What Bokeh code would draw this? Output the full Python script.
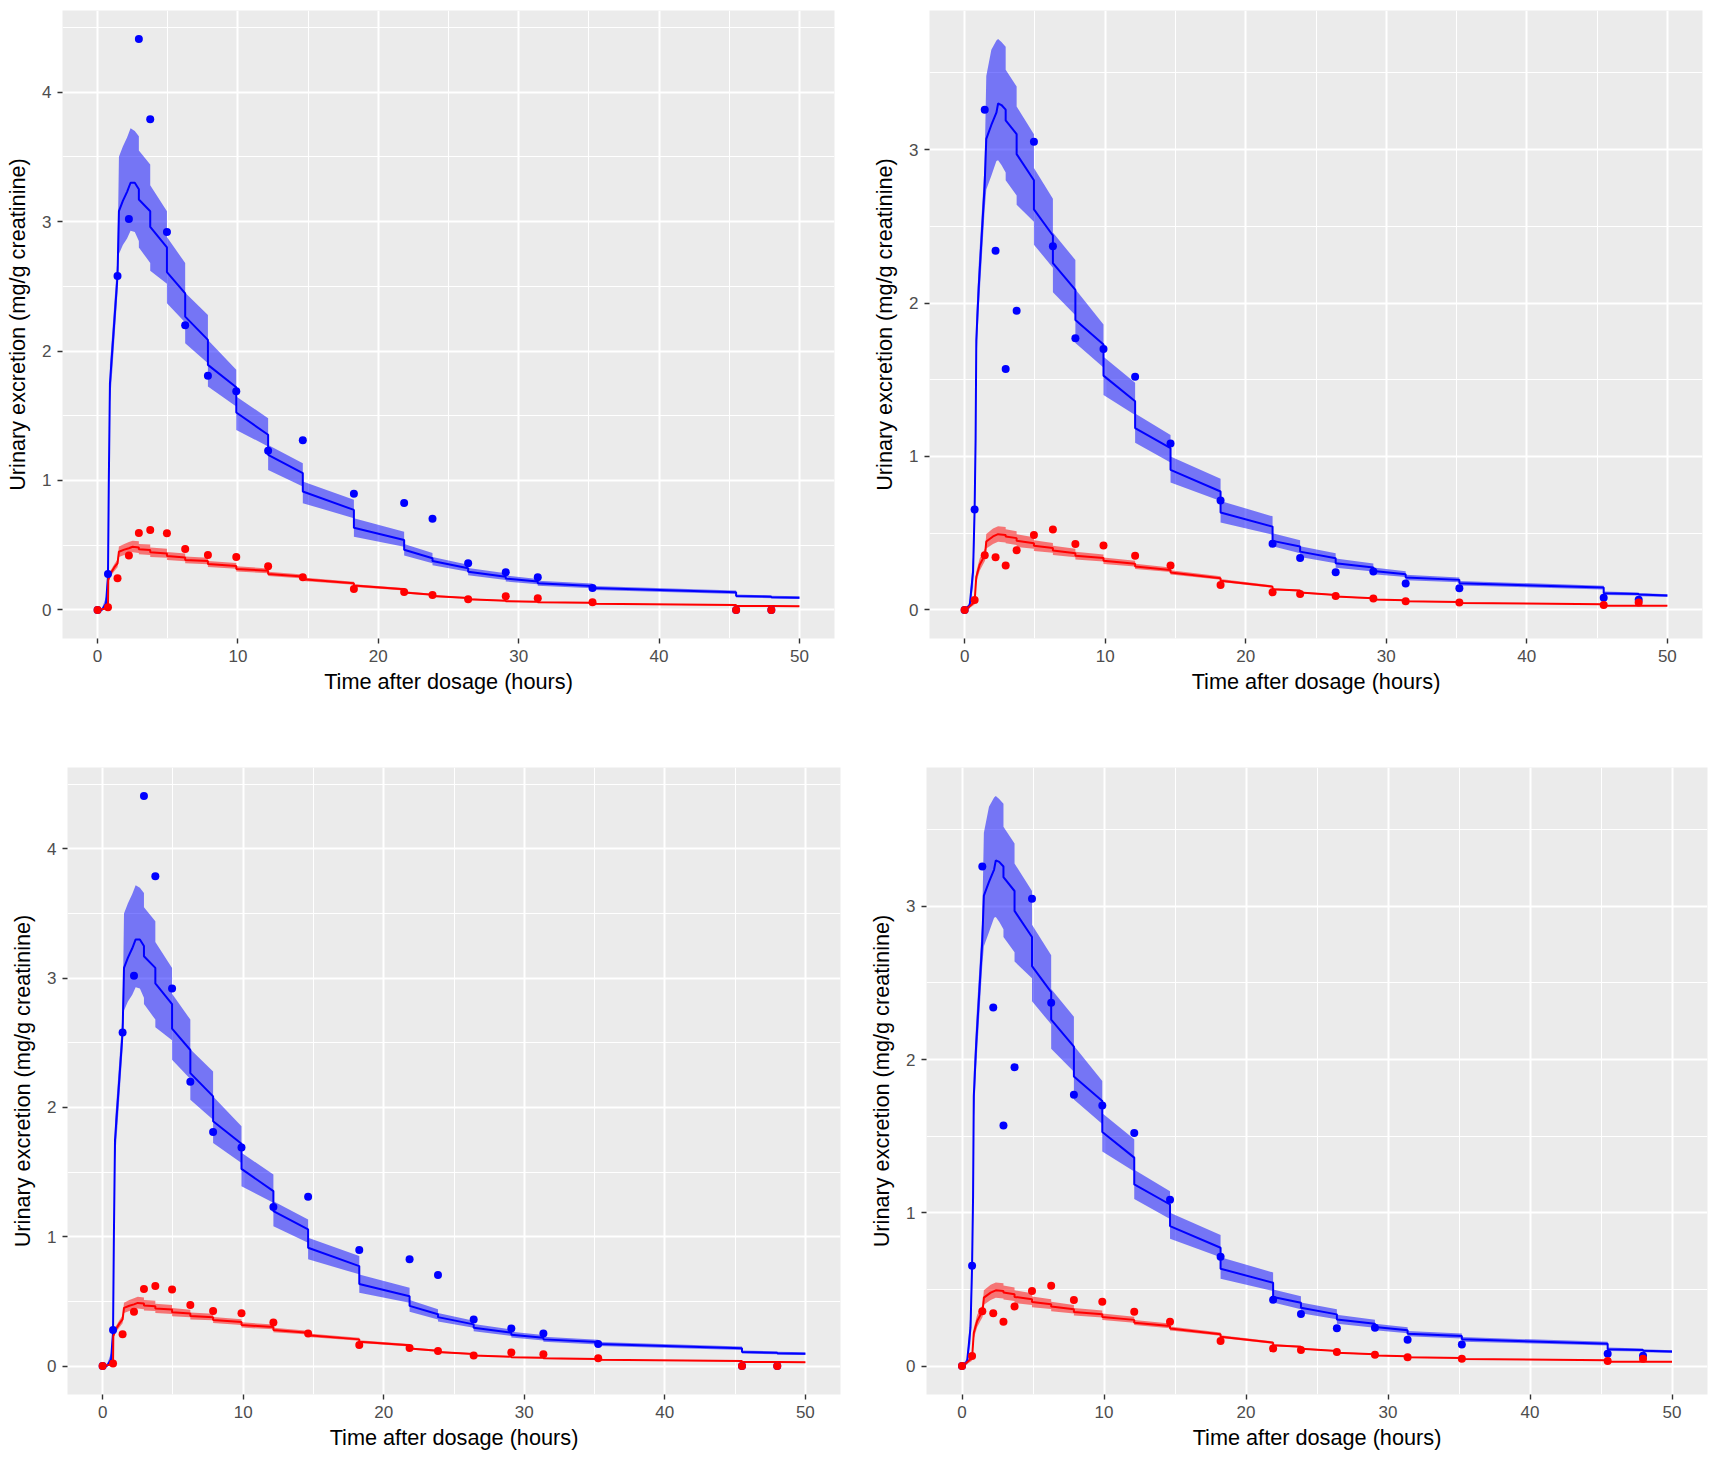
from bokeh.plotting import figure
from bokeh.layouts import row, column
from bokeh.models import Range1d, FixedTicker
from bokeh.embed import file_html
from bokeh.resources import INLINE

# ---------------- data: left panels (top-left and bottom-left) ----------------
obs_time_L = [0, 0.74, 1.42, 2.23, 2.94, 3.75, 4.94, 6.24, 7.86, 9.88, 12.15, 14.62,
              18.26, 21.84, 23.86, 26.4, 29.08, 31.36, 35.26, 45.49, 48.0]
blue_obs_L = [0.0, 0.278, 2.58, 3.02, 4.41, 3.79, 2.92, 2.20, 1.81, 1.69, 1.23, 1.31,
              0.898, 0.826, 0.705, 0.36, 0.291, 0.252, 0.17, 0.0, 0.0]
red_obs_L = [0.0, 0.02, 0.245, 0.42, 0.595, 0.618, 0.592, 0.471, 0.425, 0.409, 0.337, 0.252,
             0.162, 0.139, 0.116, 0.082, 0.105, 0.09, 0.059, 0.0, 0.0]

t_blue_L = [0, 0.3, 0.6, 0.74, 0.8, 0.88, 1.05, 1.42, 1.52, 1.8, 2.1, 2.35, 2.65,
            2.94, 2.94, 3.75, 3.75, 4.94, 4.94, 6.24, 6.24, 7.86, 7.86, 9.88, 9.88,
            12.15, 12.15, 14.62, 14.62, 18.26, 18.26, 21.84, 21.84, 23.86, 23.86,
            26.4, 26.4, 29.08, 29.08, 31.36, 31.36, 35.26, 35.26, 45.49, 45.49, 48.0, 48.0, 50.0]
blue_mean_L = [0, 0.0, 0.05, 0.26, 1.0, 1.75, 2.01, 2.58, 3.08, 3.16, 3.23, 3.30, 3.30,
               3.25, 3.17, 3.08, 2.96, 2.80, 2.61, 2.445, 2.266, 2.086, 1.893, 1.72, 1.525,
               1.353, 1.198, 1.057, 0.915, 0.773, 0.635, 0.54, 0.465, 0.40, 0.378,
               0.322, 0.296, 0.257, 0.242, 0.219, 0.206, 0.185, 0.17, 0.137, 0.108, 0.102, 0.099, 0.095]
blue_low_L = [0, 0, 0.03, 0.2, 0.85, 1.6, 1.85, 2.45, 2.75, 2.82, 2.87, 2.93, 2.92,
              2.85, 2.80, 2.68, 2.62, 2.52, 2.37, 2.22, 2.06, 1.906, 1.726, 1.571, 1.391,
              1.263, 1.082, 0.954, 0.825, 0.709, 0.566, 0.489, 0.42, 0.36, 0.345,
              0.295, 0.268, 0.232, 0.22, 0.198, 0.187, 0.167, 0.154, 0.123, 0.096, 0.091, 0.088, 0.085]
blue_high_L = [0, 0.01, 0.1, 0.35, 1.15, 1.9, 2.15, 2.72, 3.50, 3.58, 3.65, 3.72, 3.70,
               3.66, 3.55, 3.44, 3.28, 3.08, 2.88, 2.68, 2.45, 2.279, 2.086, 1.855, 1.649,
               1.481, 1.275, 1.134, 0.992, 0.851, 0.708, 0.605, 0.51, 0.44, 0.41,
               0.35, 0.325, 0.283, 0.265, 0.24, 0.226, 0.204, 0.186, 0.151, 0.12, 0.113, 0.11, 0.106]

t_red_L = [0, 0.3, 0.6, 0.74, 0.76, 0.93, 1.2, 1.42, 1.52, 1.9, 2.23, 2.5,
           2.94, 2.94, 3.75, 3.75, 4.94, 4.94, 6.24, 6.24, 7.86, 7.86, 9.88, 9.88,
           12.15, 12.15, 14.62, 14.62, 18.26, 18.26, 21.84, 21.84, 23.86, 23.86,
           26.4, 26.4, 29.08, 29.08, 31.36, 31.36, 35.26, 35.26, 45.49, 45.49, 48.0, 48.0, 50.0]
red_mean_L = [0, 0.005, 0.012, 0.02, 0.232, 0.283, 0.33, 0.36, 0.45, 0.466, 0.477, 0.488,
              0.483, 0.468, 0.463, 0.445, 0.437, 0.416, 0.406, 0.386, 0.378, 0.355, 0.34, 0.317,
              0.302, 0.278, 0.258, 0.237, 0.206, 0.188, 0.16, 0.135, 0.118, 0.108,
              0.093, 0.082, 0.072, 0.067, 0.063, 0.06, 0.055, 0.048, 0.038, 0.031, 0.030, 0.030, 0.029]
red_low_L = [0, 0, 0.005, 0.012, 0.21, 0.26, 0.30, 0.33, 0.41, 0.425, 0.437, 0.445,
             0.44, 0.43, 0.425, 0.41, 0.403, 0.385, 0.377, 0.36, 0.353, 0.332, 0.318, 0.297,
             0.284, 0.262, 0.243, 0.224, 0.195, 0.178, 0.151, 0.127, 0.111, 0.101,
             0.087, 0.077, 0.067, 0.063, 0.058, 0.055, 0.049, 0.044, 0.034, 0.028, 0.027, 0.027, 0.026]
red_high_L = [0, 0.01, 0.02, 0.03, 0.25, 0.305, 0.355, 0.39, 0.49, 0.51, 0.525, 0.535,
              0.53, 0.51, 0.505, 0.482, 0.472, 0.448, 0.436, 0.413, 0.404, 0.379, 0.362, 0.338,
              0.321, 0.295, 0.273, 0.251, 0.218, 0.199, 0.17, 0.144, 0.126, 0.115,
              0.099, 0.088, 0.077, 0.072, 0.067, 0.064, 0.057, 0.051, 0.041, 0.034, 0.033, 0.033, 0.032]

# ---------------- data: right panels (top-right and bottom-right) ----------------
obs_time_R = [0, 0.71, 1.43, 2.2, 2.92, 3.7, 4.93, 6.28, 7.88, 9.88, 12.13, 14.65,
              18.21, 21.91, 23.87, 26.4, 29.08, 31.38, 35.2, 45.47, 47.96]
blue_obs_R = [0.0, 0.654, 3.26, 2.34, 1.57, 1.95, 3.05, 2.37, 1.77, 1.70, 1.52, 1.085,
              0.713, 0.432, 0.339, 0.246, 0.25, 0.172, 0.141, 0.080, 0.067]
red_obs_R = [0.0, 0.065, 0.357, 0.344, 0.289, 0.389, 0.489, 0.524, 0.43, 0.42, 0.354, 0.289,
             0.163, 0.115, 0.104, 0.091, 0.074, 0.057, 0.048, 0.033, 0.048]

t_blue_R = [0, 0.36, 0.6, 0.71, 0.78, 0.83, 1.0, 1.42, 1.54, 1.9, 2.26, 2.38, 2.62,
            2.92, 2.92, 3.70, 3.70, 4.93, 4.93, 6.28, 6.28, 7.88, 7.88, 9.88, 9.88,
            12.13, 12.13, 14.65, 14.65, 18.21, 18.21, 21.91, 21.91, 23.87, 23.87,
            26.4, 26.4, 29.08, 29.08, 31.38, 31.38, 35.2, 35.2, 45.47, 45.47, 47.96, 47.96, 50.0]
blue_mean_R = [0, 0.03, 0.25, 0.654, 1.11, 1.76, 2.1, 2.76, 3.07, 3.16, 3.24, 3.30, 3.29,
               3.26, 3.19, 3.10, 2.97, 2.80, 2.61, 2.44, 2.26, 2.085, 1.89, 1.73, 1.527,
               1.36, 1.185, 1.054, 0.913, 0.772, 0.635, 0.543, 0.45, 0.413, 0.38,
               0.337, 0.304, 0.276, 0.254, 0.233, 0.211, 0.196, 0.174, 0.146, 0.109, 0.104, 0.10, 0.094]
blue_low_R = [0, 0.01, 0.15, 0.5, 0.95, 1.6, 1.95, 2.6, 2.74, 2.83, 2.925, 2.93, 2.90,
              2.85, 2.80, 2.70, 2.64, 2.53, 2.38, 2.23, 2.07, 1.92, 1.74, 1.58, 1.40,
              1.27, 1.09, 0.96, 0.83, 0.71, 0.57, 0.49, 0.415, 0.37, 0.345,
              0.305, 0.275, 0.25, 0.233, 0.214, 0.194, 0.18, 0.159, 0.134, 0.098, 0.094, 0.09, 0.085]
blue_high_R = [0, 0.05, 0.35, 0.8, 1.3, 1.92, 2.25, 2.9, 3.48, 3.65, 3.71, 3.72, 3.70,
               3.67, 3.52, 3.41, 3.28, 3.10, 2.88, 2.68, 2.46, 2.28, 2.09, 1.86, 1.65,
               1.48, 1.28, 1.14, 1.0, 0.855, 0.71, 0.61, 0.50, 0.455, 0.415,
               0.37, 0.335, 0.302, 0.276, 0.253, 0.229, 0.212, 0.189, 0.158, 0.12, 0.114, 0.11, 0.103]

t_red_R = [0, 0.3, 0.71, 0.83, 1.07, 1.45, 1.54, 2.02, 2.38,
           2.92, 2.92, 3.70, 3.70, 4.93, 4.93, 6.28, 6.28, 7.88, 7.88, 9.88, 9.88,
           12.13, 12.13, 14.65, 14.65, 18.21, 18.21, 21.91, 21.91, 23.87, 23.87,
           26.4, 26.4, 29.08, 29.08, 31.38, 31.38, 35.2, 35.2, 45.47, 45.47, 47.96, 47.96, 50.0]
red_mean_R = [0, 0.02, 0.054, 0.217, 0.294, 0.359, 0.446, 0.479, 0.494,
              0.489, 0.479, 0.468, 0.451, 0.435, 0.418, 0.403, 0.388, 0.37, 0.353, 0.338, 0.32,
              0.301, 0.283, 0.261, 0.244, 0.207, 0.191, 0.152, 0.135, 0.126, 0.113,
              0.098, 0.087, 0.076, 0.068, 0.063, 0.057, 0.052, 0.046, 0.037, 0.028, 0.028, 0.028, 0.027]
red_low_R = [0, 0.01, 0.035, 0.18, 0.255, 0.32, 0.40, 0.43, 0.445,
             0.44, 0.434, 0.424, 0.41, 0.398, 0.384, 0.372, 0.358, 0.343, 0.329, 0.316, 0.3,
             0.283, 0.267, 0.247, 0.231, 0.197, 0.182, 0.145, 0.129, 0.12, 0.108,
             0.094, 0.083, 0.072, 0.065, 0.06, 0.054, 0.049, 0.044, 0.035, 0.026, 0.026, 0.026, 0.025]
red_high_R = [0, 0.03, 0.075, 0.25, 0.335, 0.40, 0.495, 0.53, 0.545,
              0.54, 0.526, 0.513, 0.494, 0.474, 0.454, 0.436, 0.419, 0.398, 0.379, 0.362, 0.342,
              0.321, 0.301, 0.277, 0.258, 0.219, 0.201, 0.16, 0.142, 0.132, 0.119,
              0.103, 0.091, 0.080, 0.071, 0.066, 0.06, 0.055, 0.048, 0.039, 0.030, 0.030, 0.030, 0.029]

x_ticks = [0, 10, 20, 30, 40, 50]
x_minor = [5, 15, 25, 35, 45]
y_ticks_L = [0, 1, 2, 3, 4]
y_minor_L = [0.5, 1.5, 2.5, 3.5, 4.5]
y_ticks_R = [0, 1, 2, 3]
y_minor_R = [0.5, 1.5, 2.5, 3.5]

x_title = "Time after dosage (hours)"
y_title = "Urinary excretion (mg/g creatinine)"

FONT = "Liberation Sans"

datasets = {
    "L": dict(obs_t=obs_time_L, bo=blue_obs_L, ro=red_obs_L,
              tb=t_blue_L, bm=blue_mean_L, bl=blue_low_L, bh=blue_high_L,
              tr=t_red_L, rm=red_mean_L, rl=red_low_L, rh=red_high_L,
              yt=y_ticks_L, ym=y_minor_L),
    "R": dict(obs_t=obs_time_R, bo=blue_obs_R, ro=red_obs_R,
              tb=t_blue_R, bm=blue_mean_R, bl=blue_low_R, bh=blue_high_R,
              tr=t_red_R, rm=red_mean_R, rl=red_low_R, rh=red_high_R,
              yt=y_ticks_R, ym=y_minor_R),
}


def panel(key, w, h, b_left, b_right, b_top, b_bottom):
    d = datasets[key]
    ymax = max(max(d["bo"]), max(d["bh"]), max(d["ro"]), max(d["rh"]))
    pad = 0.05 * ymax
    p = figure(width=w, height=h, output_backend="svg", toolbar_location=None,
               title=None,
               x_range=Range1d(-2.5, 52.5), y_range=Range1d(-pad, ymax + pad),
               min_border_left=b_left, min_border_right=b_right,
               min_border_top=b_top, min_border_bottom=b_bottom)
    p.background_fill_color = "#EBEBEB"
    p.border_fill_color = "white"
    p.outline_line_color = None

    p.xaxis.ticker = FixedTicker(ticks=x_ticks, minor_ticks=x_minor)
    p.yaxis.ticker = FixedTicker(ticks=d["yt"], minor_ticks=d["ym"])
    for ax in (p.xaxis[0], p.yaxis[0]):
        ax.axis_line_color = None
        ax.major_tick_out = 5
        ax.major_tick_in = 0
        ax.minor_tick_out = 0
        ax.minor_tick_in = 0
        ax.major_tick_line_color = "#333333"
        ax.major_tick_line_width = 1.4
        ax.major_label_text_font = FONT
        ax.major_label_text_font_size = "17px"
        ax.major_label_text_color = "#4D4D4D"
        ax.axis_label_text_font = FONT
        ax.axis_label_text_font_size = "21.7px"
        ax.axis_label_text_font_style = "normal"
        ax.axis_label_text_color = "black"
    p.xaxis.axis_label = x_title
    p.yaxis.axis_label = y_title
    p.xaxis.major_label_standoff = 6
    p.xaxis.axis_label_standoff = 4
    p.yaxis.major_label_standoff = 6
    p.yaxis.axis_label_standoff = 9

    for g in (p.xgrid[0], p.ygrid[0]):
        g.grid_line_color = "white"
        g.grid_line_width = 2
        g.minor_grid_line_color = "white"
        g.minor_grid_line_width = 1

    p.varea(x=d["tb"], y1=d["bl"], y2=d["bh"], fill_color="#0000FF", fill_alpha=0.5)
    p.varea(x=d["tr"], y1=d["rl"], y2=d["rh"], fill_color="#FF0000", fill_alpha=0.5)
    p.line(d["tb"], d["bm"], line_color="#0000FF", line_width=2)
    p.line(d["tr"], d["rm"], line_color="#FF0000", line_width=2)
    p.scatter(d["obs_t"], d["bo"], size=8, fill_color="#0000FF", line_color=None)
    p.scatter(d["obs_t"], d["ro"], size=8, fill_color="#FF0000", line_color=None)
    return p


p_tl = panel("L", 864, 756, 62, 30, 10, 118)
p_tr = panel("R", 848, 756, 65, 10, 10, 118)
p_bl = panel("L", 864, 704, 67, 24, 10, 66)
p_br = panel("R", 848, 704, 62, 5, 11, 65)

layout = column(row(p_tl, p_tr), row(p_bl, p_br))

with open("out.html", "w") as f:
    f.write(file_html(layout, INLINE))
